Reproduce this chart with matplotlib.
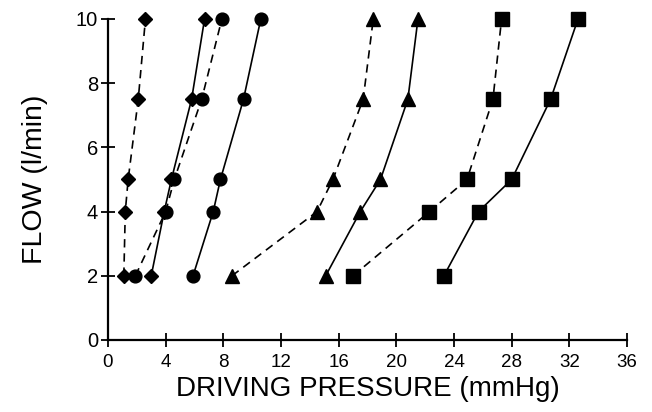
import matplotlib
matplotlib.use("Agg")
import matplotlib.pyplot as plt

flow = [2, 4, 5, 7.5, 10]

diamond_dashed = [1.1, 1.2, 1.4, 2.1, 2.6]
diamond_solid = [3.0, 3.9, 4.4, 5.8, 6.7]
circle_dashed = [1.9, 4.0, 4.6, 6.5, 7.9]
circle_solid = [5.9, 7.3, 7.8, 9.4, 10.6]
triangle_dashed = [8.6, 14.5, 15.6, 17.7, 18.4]
triangle_solid = [15.1, 17.5, 18.9, 20.8, 21.5]
square_dashed = [17.0, 22.3, 24.9, 26.7, 27.3]
square_solid = [23.3, 25.7, 28.0, 30.7, 32.6]

x_ticks = [0, 4, 8, 12, 16, 20, 24, 28, 32, 36]
y_ticks = [0, 2, 4, 6, 8, 10]

series = [
    (diamond_dashed, "D", "--", 7.5),
    (diamond_solid, "D", "-", 7.5),
    (circle_dashed, "o", "--", 9.2),
    (circle_solid, "o", "-", 9.2),
    (triangle_dashed, "^", "--", 9.5),
    (triangle_solid, "^", "-", 9.5),
    (square_dashed, "s", "--", 9.5),
    (square_solid, "s", "-", 9.5),
]

fig = plt.figure(figsize=(6.52, 4.12), dpi=100)
ax = fig.add_axes([0.1656, 0.1748, 0.7961, 0.7791])

for xs, m, ls, ms in series:
    line, = ax.plot(xs, flow, color="black", linestyle=ls, linewidth=1.2,
                    marker=m, markersize=ms, markerfacecolor="black",
                    markeredgecolor="black", clip_on=False)
    if ls == "--":
        line.set_dashes([5, 3.5])

ax.set_xlim(0, 36)
ax.set_ylim(0, 10)
ax.set_xticks(x_ticks)
ax.set_yticks(y_ticks)
ax.spines["top"].set_visible(False)
ax.spines["right"].set_visible(False)
for s in ("left", "bottom"):
    ax.spines[s].set_linewidth(1.6)
ax.tick_params(axis="x", direction="inout", length=10, width=1.3, labelsize=13.5,
               colors="black", pad=5)
ax.tick_params(axis="y", direction="inout", length=10, width=1.3, labelsize=14.5,
               colors="black", pad=2)
for lab in ax.get_xticklabels() + ax.get_yticklabels():
    lab.set_family("Liberation Sans")

ax.set_xlabel("DRIVING PRESSURE (mmHg)", fontsize=20, family="Liberation Sans", labelpad=4)
ax.set_ylabel("FLOW (l/min)", fontsize=20.5, family="Liberation Sans", labelpad=20)

fig.savefig("out.png", dpi=100)
